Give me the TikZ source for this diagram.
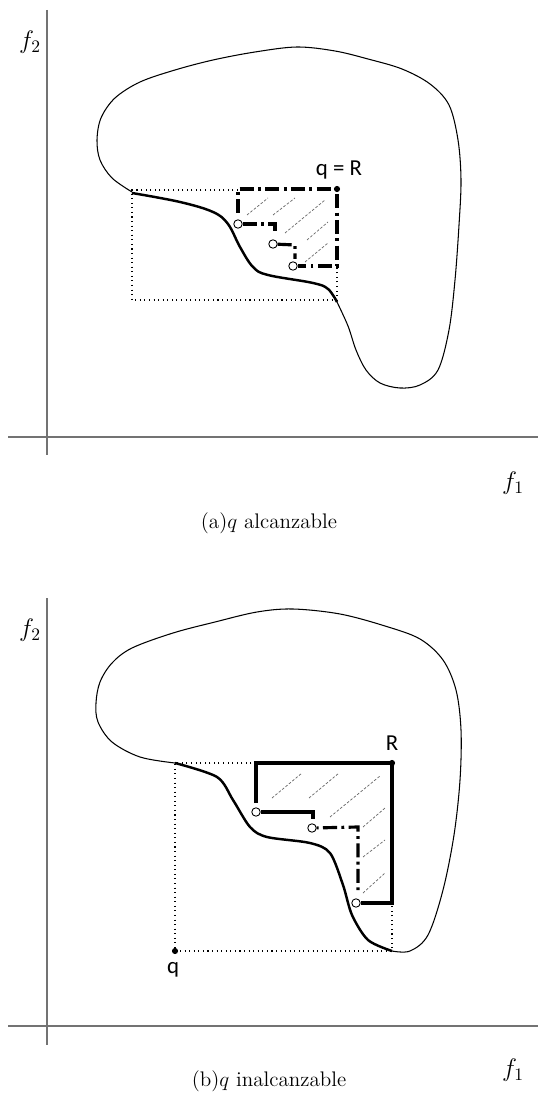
\documentclass[tikz,border=0pt]{standalone}
\usepackage{fontspec}
\newfontfamily\calibri{Carlito}
\usetikzlibrary{positioning}

\begin{document}
\begin{tikzpicture}[
  x=0.02cm, y=-0.02cm,
  axis/.style={draw=black!55,line width=0.8pt},
  region/.style={line width=0.6pt},
  front/.style={line width=1.4pt},
  boxline/.style={line width=0.6pt,dotted},
  stair/.style={line width=1.8pt,dash pattern=on 8pt off 2.5pt on 1.6pt off 2.5pt},
  stairsolid/.style={line width=1.8pt},
  hatch/.style={black!60,line width=0.4pt,dash pattern=on 1.5pt off 1pt},
  pt/.style={circle,draw,fill=white,inner sep=0pt,minimum size=4.8pt,line width=0.5pt},
  dot/.style={circle,fill,inner sep=0pt,minimum size=3.5pt},
  lbl/.style={font=\calibri\fontsize{13}{15}\selectfont},
  fl/.style={font=\Large},
  captext/.style={font=\large}
]
\useasboundingbox (0,0) rectangle (538,1097);

% (a) q alcanzable
\begin{scope}
  \draw[axis] (47,10) -- (47,455);
  \draw[axis] (8,437) -- (538,437);
  \node[fl] (f2a) at (30,42) {$f_2$};
  \node[fl] (f1a) at (513,483) {$f_1$};
  \node[captext] (capa) at (269,523) {(a)$q$ alcanzable};
  \draw[region] plot[smooth,tension=0.55] coordinates {(132,192) (112,178) (100,160) (97,140) (101,118) (115,98) (140,82) (175,70) (213,60) (255,52) (297,47) (335,51) (368,59) (402,69) (430,84) (449,105) (458,140) (461,180) (459,225) (455,280) (449,330) (438,370) (420,385) (400,388) (380,383) (366,370) (356,350) (348,326) (337,302)};
  \draw[front] plot[smooth,tension=0.6] coordinates {(132,193) (180,202) (213,212) (228,224) (240,247) (253,267) (268,275) (313,283) (328,289) (337,302)};
  \draw[boxline] (238,190) -- (132,190) -- (132,300) -- (337,300) -- (337,266);
  % hatching
  \foreach \xa/\ya/\xb/\yb in {247/215/268/198, 273/215/295/198, 285/233/325/200, 307/240/328/222, 305/262/328/243}
    \draw[hatch] (\xa,\ya) -- (\xb,\yb);
  \node[dot] (Ra) at (337,189) {};
  \node[pt] (c1a) at (238,224) {};
  \node[pt] (c2a) at (273,244) {};
  \node[pt] (c3a) at (293,266) {};
  \draw[stair] (238,213) -- (238,189) -- (Ra.center) -- (337,266) -- (c3a);
  \draw[stair] (c1a) -- (275,224) -- (275,233);
  \draw[stair] (c2a) -- (295,245) -- (295,259);
  \node[lbl] (qRa) at (339,170) {q = R};
\end{scope}

% (b) q inalcanzable
\begin{scope}
  \draw[axis] (47,598) -- (47,1045);
  \draw[axis] (8,1026) -- (538,1026);
  \node[fl] (f2b) at (30,630) {$f_2$};
  \node[fl] (f1b) at (513,1070) {$f_1$};
  \node[captext] (capb) at (269,1081) {(b)$q$ inalcanzable};
  \draw[region] plot[smooth,tension=0.55] coordinates {(175,763) (140,757) (112,742) (98,722) (96,703) (100,682) (112,663) (132,648) (173,633) (215,622) (257,612) (293,609) (340,614) (385,626) (420,639) (443,660) (456,690) (461,730) (460,780) (454,835) (443,890) (428,935) (410,951) (392,951)};
  \draw[front] plot[smooth] coordinates {(175,763) (217,777) (233,800) (250,827) (267,837) (310,843) (330,853) (343,885) (352,915) (368,940) (392,951)};
  \draw[boxline] (256,763) -- (175,763) -- (175,951) -- (392,951) -- (392,903);
  % hatching
  \foreach \xa/\ya/\xb/\yb in {272/798/302/773, 309/798/339/773, 330/817/380/776, 363/827/385/808, 363/857/385/840, 363/893/385/873}
    \draw[hatch] (\xa,\ya) -- (\xb,\yb);
  \node[dot] (Rb) at (392,763) {};
  \node[dot] (qb) at (175,951) {};
  \node[pt] (c1b) at (256,812) {};
  \node[pt] (c2b) at (312,828) {};
  \node[pt] (c3b) at (356,903) {};
  \draw[stairsolid] (256,803) -- (256,763) -- (Rb.center) -- (392,903) -- (c3b);
  \draw[stairsolid] (c1b) -- (313,812) -- (313,819);
  \draw[stair,dash phase=11pt] (c2b) -- (358,827) -- (358,893);
  \node[lbl] (Rlb) at (392,743) {R};
  \node[lbl] (qlb) at (173,970) {q};
\end{scope}
\end{tikzpicture}
\end{document}
